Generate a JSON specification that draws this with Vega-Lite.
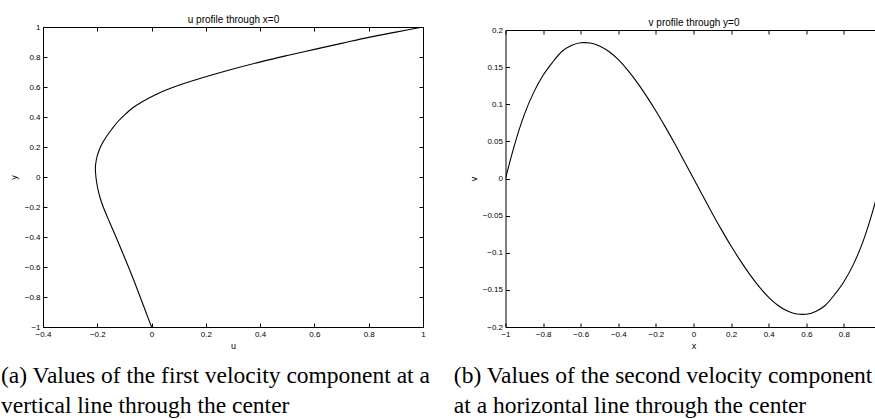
{
  "$schema": "https://vega.github.io/schema/vega-lite/v6.json",
  "background": "white",
  "padding": {"left": 0, "top": 13, "right": 0, "bottom": 0},
  "spacing": 22.5,
  "config": {
    "view": {"stroke": "black", "strokeWidth": 1},
    "axis": {
      "grid": false,
      "domainColor": "black",
      "domainWidth": 1,
      "tickColor": "black",
      "tickWidth": 1,
      "tickSize": -4,
      "labelColor": "black",
      "titleColor": "black",
      "labelFont": "Liberation Sans",
      "titleFont": "Liberation Sans",
      "labelFontSize": 8,
      "titleFontSize": 9,
      "titleFontWeight": "normal",
      "labelPadding": 7,
      "labelFlush": false,
      "labelOverlap": false,
      "format": "~g"
    }
  },
  "datasets": {
    "uprofile": [
      {"u": 0.0, "y": -1.0},
      {"u": -0.021, "y": -0.9},
      {"u": -0.042, "y": -0.8},
      {"u": -0.063, "y": -0.7},
      {"u": -0.085, "y": -0.6},
      {"u": -0.108, "y": -0.5},
      {"u": -0.131, "y": -0.4},
      {"u": -0.155, "y": -0.3},
      {"u": -0.178, "y": -0.2},
      {"u": -0.191, "y": -0.13},
      {"u": -0.200, "y": -0.06},
      {"u": -0.205, "y": 0.0},
      {"u": -0.207, "y": 0.06},
      {"u": -0.203, "y": 0.12},
      {"u": -0.195, "y": 0.17},
      {"u": -0.183, "y": 0.22},
      {"u": -0.166, "y": 0.27},
      {"u": -0.146, "y": 0.32},
      {"u": -0.124, "y": 0.37},
      {"u": -0.100, "y": 0.413},
      {"u": -0.070, "y": 0.46},
      {"u": -0.036, "y": 0.50},
      {"u": 0.000, "y": 0.535},
      {"u": 0.040, "y": 0.57},
      {"u": 0.085, "y": 0.602},
      {"u": 0.175, "y": 0.655},
      {"u": 0.28, "y": 0.71},
      {"u": 0.405, "y": 0.769},
      {"u": 0.50, "y": 0.81},
      {"u": 0.60, "y": 0.851},
      {"u": 0.70, "y": 0.891},
      {"u": 0.80, "y": 0.931},
      {"u": 0.90, "y": 0.966},
      {"u": 1.0, "y": 1.0}
    ],
    "vprofile": [
      {"x": -1.0, "v": 0.0},
      {"x": -0.95, "v": 0.047},
      {"x": -0.90, "v": 0.086},
      {"x": -0.85, "v": 0.116},
      {"x": -0.80, "v": 0.139},
      {"x": -0.75, "v": 0.1565},
      {"x": -0.70, "v": 0.171},
      {"x": -0.65, "v": 0.179},
      {"x": -0.60, "v": 0.1828},
      {"x": -0.58, "v": 0.183},
      {"x": -0.55, "v": 0.1825},
      {"x": -0.50, "v": 0.1785},
      {"x": -0.45, "v": 0.171},
      {"x": -0.40, "v": 0.160},
      {"x": -0.35, "v": 0.146},
      {"x": -0.30, "v": 0.1295},
      {"x": -0.25, "v": 0.111},
      {"x": -0.20, "v": 0.091},
      {"x": -0.15, "v": 0.0695},
      {"x": -0.10, "v": 0.047},
      {"x": -0.05, "v": 0.0235},
      {"x": 0.0, "v": 0.0},
      {"x": 0.05, "v": -0.0235},
      {"x": 0.10, "v": -0.047},
      {"x": 0.15, "v": -0.0695},
      {"x": 0.20, "v": -0.091},
      {"x": 0.25, "v": -0.111},
      {"x": 0.30, "v": -0.1295},
      {"x": 0.35, "v": -0.146},
      {"x": 0.40, "v": -0.160},
      {"x": 0.45, "v": -0.171},
      {"x": 0.50, "v": -0.1785},
      {"x": 0.55, "v": -0.1825},
      {"x": 0.58, "v": -0.183},
      {"x": 0.60, "v": -0.1828},
      {"x": 0.65, "v": -0.179},
      {"x": 0.70, "v": -0.171},
      {"x": 0.75, "v": -0.1565},
      {"x": 0.80, "v": -0.139},
      {"x": 0.85, "v": -0.116},
      {"x": 0.90, "v": -0.086},
      {"x": 0.95, "v": -0.047},
      {"x": 1.0, "v": 0.0}
    ]
  },
  "hconcat": [
    {
      "width": 380,
      "height": 300,
      "data": {"name": "uprofile"},
      "title": {
        "text": ["(a) Values of the first velocity component at a", "vertical line through the center"],
        "orient": "bottom",
        "anchor": "start",
        "frame": "group",
        "dx": -42,
        "offset": 14,
        "font": "Liberation Serif",
        "fontSize": 23.5,
        "fontWeight": "normal",
        "lineHeight": 30,
        "color": "black"
      },
      "layer": [
        {
          "mark": {"type": "line", "color": "black", "strokeWidth": 1.1, "interpolate": "catmull-rom", "clip": true},
          "encoding": {
            "x": {
              "field": "u", "type": "quantitative",
              "scale": {"domain": [-0.4, 1], "nice": false, "zero": false},
              "axis": {"orient": "bottom", "title": "u", "titlePadding": 3,
                       "values": [-0.4, -0.2, 0, 0.2, 0.4, 0.6, 0.8, 1]}
            },
            "y": {
              "field": "y", "type": "quantitative",
              "scale": {"domain": [-1, 1], "nice": false, "zero": false},
              "axis": {"orient": "left", "title": "y", "titlePadding": 6,
                       "values": [-1, -0.8, -0.6, -0.4, -0.2, 0, 0.2, 0.4, 0.6, 0.8, 1]}
            },
            "order": {"field": "y", "type": "quantitative"}
          }
        },
        {
          "mark": {"type": "line", "opacity": 0},
          "encoding": {
            "x": {
              "field": "u", "type": "quantitative",
              "axis": {"orient": "top", "labels": false, "title": "u profile through x=0",
                       "titleFontSize": 10, "titlePadding": 2.5,
                       "values": [-0.4, -0.2, 0, 0.2, 0.4, 0.6, 0.8, 1]}
            },
            "y": {
              "field": "y", "type": "quantitative",
              "axis": {"orient": "right", "labels": false, "title": null,
                       "values": [-1, -0.8, -0.6, -0.4, -0.2, 0, 0.2, 0.4, 0.6, 0.8, 1]}
            },
            "order": {"field": "y", "type": "quantitative"}
          }
        }
      ],
      "resolve": {"axis": {"x": "independent", "y": "independent"}}
    },
    {
      "width": 376,
      "height": 300,
      "view": {"stroke": null},
      "data": {"name": "vprofile"},
      "title": {
        "text": ["(b) Values of the second velocity component", "at a horizontal line through the center"],
        "orient": "bottom",
        "anchor": "start",
        "frame": "group",
        "dx": -51.7,
        "offset": 14,
        "font": "Liberation Serif",
        "fontSize": 23.5,
        "fontWeight": "normal",
        "lineHeight": 30,
        "color": "black"
      },
      "layer": [
        {
          "mark": {"type": "line", "color": "black", "strokeWidth": 1.1, "interpolate": "monotone", "clip": true},
          "encoding": {
            "x": {
              "field": "x", "type": "quantitative",
              "scale": {"domain": [-1, 1], "nice": false, "zero": false},
              "axis": {"orient": "bottom", "title": "x", "titlePadding": 3,
                       "values": [-1, -0.8, -0.6, -0.4, -0.2, 0, 0.2, 0.4, 0.6, 0.8, 1]}
            },
            "y": {
              "field": "v", "type": "quantitative",
              "scale": {"domain": [-0.2, 0.2], "nice": false, "zero": false, "range": [300, 3]},
              "axis": {"orient": "left", "title": "v", "titlePadding": 3.5,
                       "values": [-0.2, -0.15, -0.1, -0.05, 0, 0.05, 0.1, 0.15, 0.2]}
            }
          }
        },
        {
          "mark": {"type": "line", "opacity": 0},
          "encoding": {
            "x": {
              "field": "x", "type": "quantitative",
              "axis": {"orient": "top", "labels": false, "title": "v profile through y=0",
                       "titleFontSize": 10, "titlePadding": 2.5, "offset": -3,
                       "values": [-1, -0.8, -0.6, -0.4, -0.2, 0, 0.2, 0.4, 0.6, 0.8, 1]}
            },
            "y": {
              "field": "v", "type": "quantitative",
              "axis": {"orient": "right", "labels": false, "title": null,
                       "values": [-0.2, -0.15, -0.1, -0.05, 0, 0.05, 0.1, 0.15, 0.2]}
            }
          }
        }
      ],
      "resolve": {"axis": {"x": "independent", "y": "independent"}}
    }
  ]
}
